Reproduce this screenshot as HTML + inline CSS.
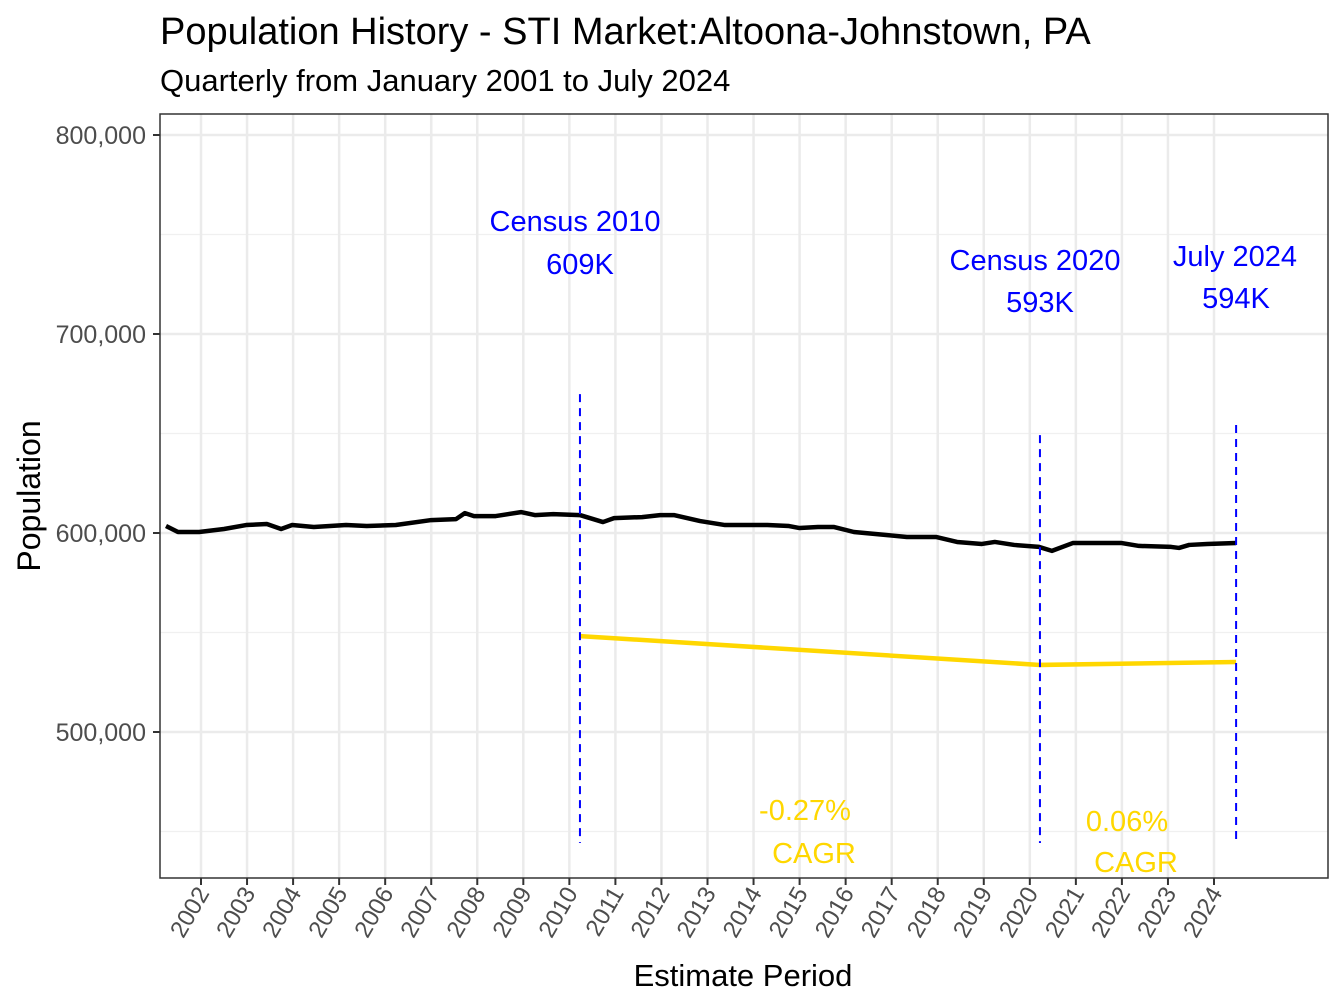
<!DOCTYPE html>
<html><head><meta charset="utf-8"><style>
body{margin:0;background:#fff}
svg{display:block;font-family:"Liberation Sans",Arial,sans-serif}
</style></head><body>
<svg id="chart" width="1344" height="1008" viewBox="0 0 1344 1008" xmlns="http://www.w3.org/2000/svg">
<rect width="1344" height="1008" fill="#fff"/>
<text x="160" y="44" font-size="38" fill="#000">Population History - STI Market:Altoona-Johnstown, PA</text>
<text x="160" y="91" font-size="31" fill="#000">Quarterly from January 2001 to July 2024</text>
<g id="grid"></g>
<g id="marks"></g>
<g id="labels"></g>
<rect x="160" y="114" width="1168" height="764" fill="none" stroke="#333" stroke-width="1.5"/>
<g id="axes"></g>
<text x="743" y="986" font-size="31" text-anchor="middle">Estimate Period</text>
<text transform="translate(40,496) rotate(-90)" font-size="32" text-anchor="middle">Population</text>
</svg>
<script>
const years = [2002,2003,2004,2005,2006,2007,2008,2009,2010,2011,2012,2013,2014,2015,2016,2017,2018,2019,2020,2021,2022,2023,2024];
const yTicks = [500000,600000,700000,800000];
const yMinor = [450000,550000,650000,750000];
const popDates = [2001.24,2001.5,2001.96,2002.5,2002.98,2003.43,2003.74,2003.98,2004.45,2005.15,2005.6,2006.23,2007.0,2007.54,2007.73,2007.93,2008.4,2008.95,2009.25,2009.65,2010.23,2010.73,2010.97,2011.58,2011.97,2012.27,2012.84,2013.38,2014.3,2014.77,2015.0,2015.4,2015.75,2016.18,2016.88,2017.33,2017.96,2018.42,2018.96,2019.24,2019.66,2020.2,2020.48,2020.94,2021.37,2021.98,2022.37,2023.07,2023.24,2023.46,2023.85,2024.48];
const popValues = [603500,600500,600500,602000,604000,604500,602000,604000,603000,604000,603500,604000,606500,607000,610000,608500,608500,610500,609000,609500,609000,605500,607500,608000,609000,609000,606000,604000,604000,603500,602500,603000,603000,600500,599000,598000,598000,595500,594500,595500,594000,593000,591000,595000,595000,595000,593500,593000,592500,594000,594500,595000];
const cagrDates = [2010.23,2020.22,2024.48];
const cagrValues = [548200,533700,535200];
const refDates = [2010.23,2020.22,2024.48];
const refTops = [669800,649200,654300];
const refBottom = 444200;
const refTitles = ["Census 2010","Census 2020","July 2024"];
const refValues = ["609K","593K","594K"];
const cagrLabels = ["-0.27%","0.06%"];

const NS="http://www.w3.org/2000/svg";
const X = d => 201 + (d-2002)*(1214-201)/22;
const Y = v => 533 - (v-600000)*199/100000;
function mk(tag, attrs, parent, text){const e=document.createElementNS(NS,tag);for(const k in attrs)e.setAttribute(k,attrs[k]);if(text!==undefined)e.textContent=text;parent.appendChild(e);return e;}
const grid=document.getElementById('grid'), marks=document.getElementById('marks'), labels=document.getElementById('labels'), axes=document.getElementById('axes');

yMinor.forEach(v=>{const l=mk('line',{x1:160,x2:1328,y1:Y(v),y2:Y(v),stroke:'#f0f0f0','stroke-width':1.2},grid);

});
yTicks.forEach(v=>{const l=mk('line',{x1:160,x2:1328,y1:Y(v),y2:Y(v),stroke:'#ebebeb','stroke-width':2.5},grid);


const t=mk('line',{x1:153,x2:160,y1:Y(v),y2:Y(v),stroke:'#333','stroke-width':2},axes);


const tx=mk('text',{x:146,y:Y(v)+9,'font-size':25,fill:'#4d4d4d','text-anchor':'end'},axes,v.toLocaleString('en-US'));

});
years.forEach(yr=>{const x=X(yr);
const l=mk('line',{x1:x,x2:x,y1:114,y2:878,stroke:'#ebebeb','stroke-width':2.5},grid);


const t=mk('line',{x1:x,x2:x,y1:878,y2:885,stroke:'#333','stroke-width':2},axes);


const tx=mk('text',{transform:`translate(${x+9},${893}) rotate(-60)`,'font-size':24,fill:'#4d4d4d','text-anchor':'end'},axes,String(yr));

});

const pop=mk('polyline',{points:popDates.map((d,i)=>X(d)+','+Y(popValues[i])).join(' '),fill:'none',stroke:'#000','stroke-width':4.5,'stroke-linejoin':'round'},marks);


const cg=mk('polyline',{points:cagrDates.map((d,i)=>X(d)+','+Y(cagrValues[i])).join(' '),fill:'none',stroke:'#FFD700','stroke-width':4.5},marks);


refDates.forEach((d,i)=>{const l=mk('line',{x1:X(d),x2:X(d),y1:Y(refTops[i]),y2:Y(refBottom),stroke:'#0000ff','stroke-width':2,'stroke-dasharray':'8,6'},marks);

});
const tpos=[[575,221,580,264],[1035,260,1040,302],[1235,256,1236,298]];
refTitles.forEach((s,i)=>{const p=tpos[i];
const a=mk('text',{x:p[0],y:p[1]+10,'font-size':29,fill:'#0000ff','text-anchor':'middle'},labels,s);


const b=mk('text',{x:p[2],y:p[3]+10,'font-size':29,fill:'#0000ff','text-anchor':'middle'},labels,refValues[i]);

});
const cpos=[[805,810,814,853],[1127,821,1136,862]];
cagrLabels.forEach((s,i)=>{const p=cpos[i];
const a=mk('text',{x:p[0],y:p[1]+10,'font-size':29,fill:'#FFD700','text-anchor':'middle'},labels,s);


const b=mk('text',{x:p[2],y:p[3]+10,'font-size':29,fill:'#FFD700','text-anchor':'middle'},labels,'CAGR');

});
</script>
</body></html>
